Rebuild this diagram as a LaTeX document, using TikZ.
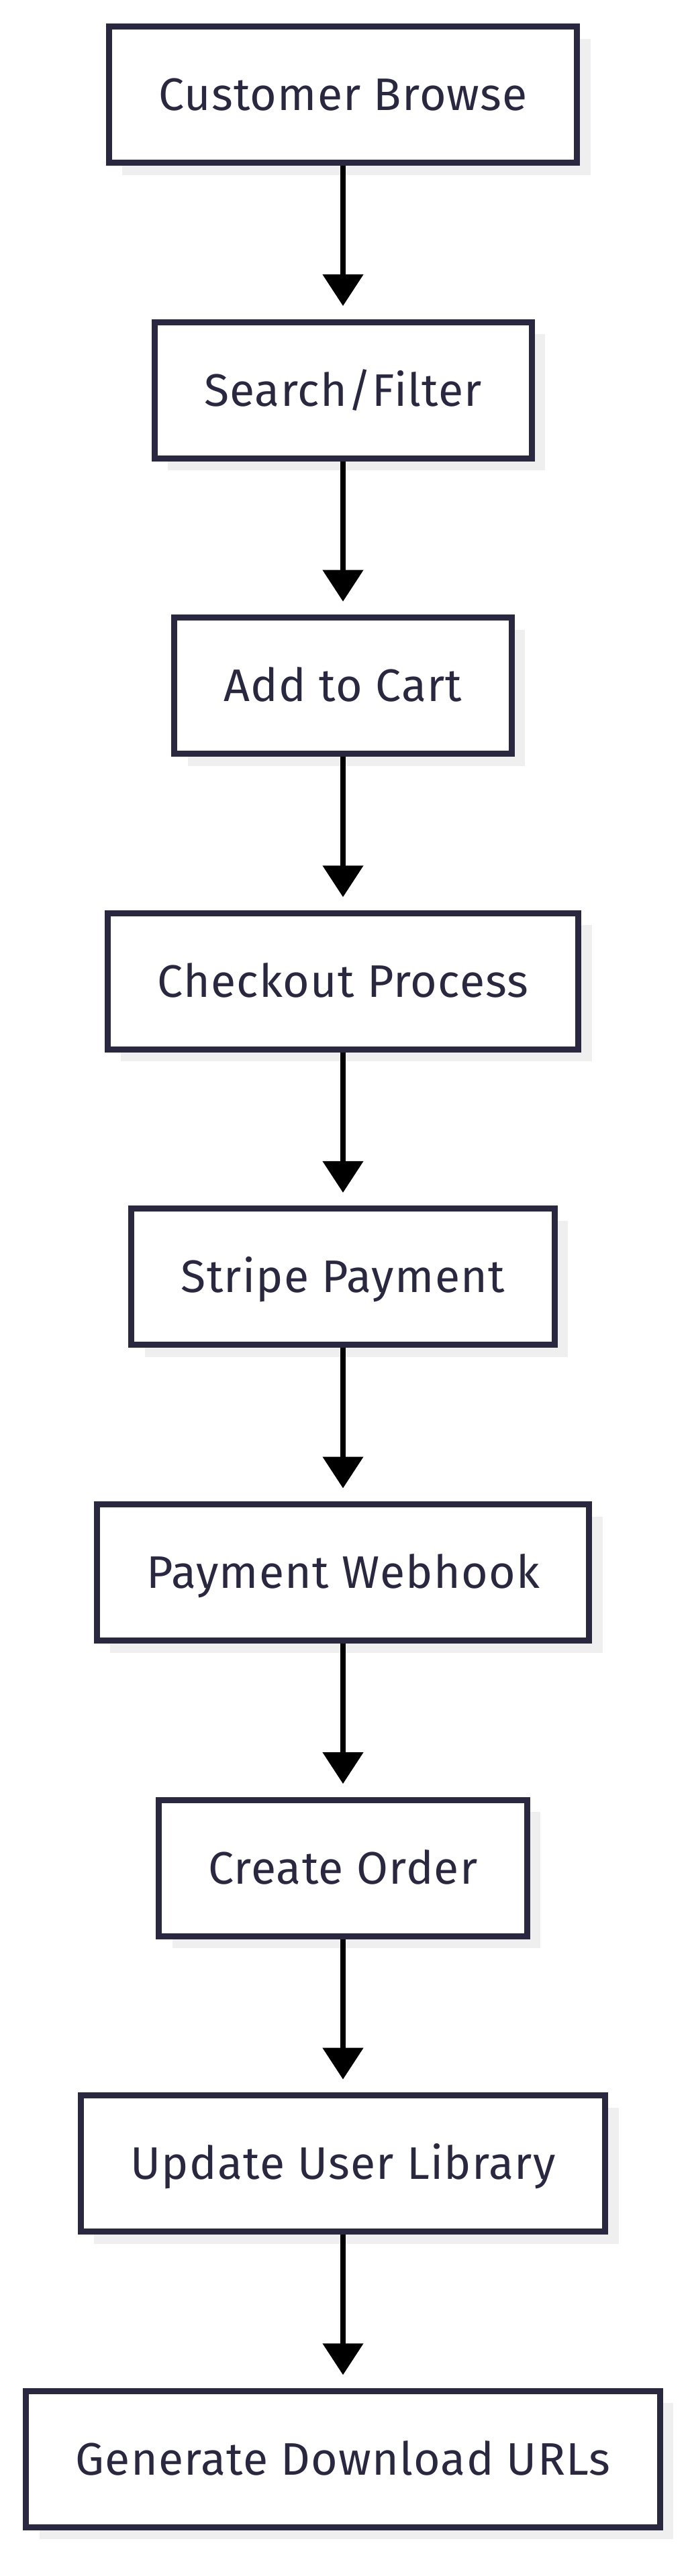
\documentclass[tikz,border=0pt]{standalone}
\usepackage{fontspec}
\setmainfont[LetterSpace=1.8]{Fira Sans}
\usetikzlibrary{arrows.meta,positioning,shadows}
\definecolor{boxline}{HTML}{2A2840}
\definecolor{shadowgray}{HTML}{EFEFEF}

\begin{document}
\begin{tikzpicture}[>={Triangle[width=29.5pt,length=23.5pt]},node distance=220.3pt,
  flowbox/.style={draw=boxline,line width=4.5pt,fill=white,text=boxline,
    minimum height=101.5pt,inner xsep=37pt,text height=23.5pt,text depth=0pt,
    font=\fontsize{34}{40}\selectfont,
    drop shadow={shadow xshift=10pt,shadow yshift=-9pt,fill=shadowgray,opacity=1}}]
  \useasboundingbox (0,0) rectangle (514pt,-1920pt);

  \node[flowbox]       (browse) at (255.5pt,-70.5pt) {Customer Browse};
  \node[flowbox]       (search)   [below of=browse]   {Search/Filter};
  \node[flowbox]       (cart)     [below of=search]   {Add to Cart};
  \node[flowbox]       (checkout) [below of=cart]     {Checkout Process};
  \node[flowbox]       (stripe)   [below of=checkout] {Stripe Payment};
  \node[flowbox]       (webhook)  [below of=stripe]   {Payment Webhook};
  \node[flowbox]       (order)    [below of=webhook]  {Create Order};
  \node[flowbox]       (library)  [below of=order]    {Update User Library};
  \node[flowbox]       (urls)     [below of=library]  {Generate Download URLs};

  \path[->,line width=4pt,black,shorten >=9.75pt]
  		(browse)   edge (search)
  		(search)   edge (cart)
  		(cart)     edge (checkout)
  		(checkout) edge (stripe)
  		(stripe)   edge (webhook)
  		(webhook)  edge (order)
  		(order)    edge (library)
  		(library)  edge (urls);
\end{tikzpicture}
\end{document}
